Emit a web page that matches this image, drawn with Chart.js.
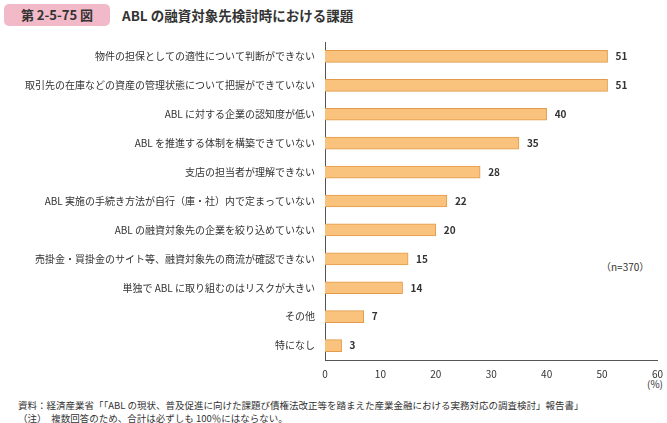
<!DOCTYPE html>
<html><head><meta charset="utf-8">
<script src="https://cdn.jsdelivr.net/npm/chart.js@4"></script>
<style>
body{margin:0;width:667px;height:423px;position:relative;font-family:"Noto Sans CJK JP","Noto Sans",sans-serif;background:#fff;color:#333}
#c{position:absolute;left:0;top:0}
.t{position:absolute;white-space:nowrap}
</style></head><body>
<div class="t" style="left:4px;top:4px;width:106px;height:22px;background:#f2b9c8;border-radius:5px;font-size:13px;line-height:22px;text-align:center;font-weight:bold">第 2-5-75 図</div>
<div class="t" style="left:122px;top:5px;font-size:13.5px;font-weight:bold;line-height:20px">ABL の融資対象先検討時における課題</div>
<div class="t" style="left:601px;top:259px;font-size:10px">（n=370）</div>
<div class="t" style="left:647px;top:376px;font-size:10px">(%)</div>
<div class="t" style="left:18px;top:399px;font-size:9.5px;line-height:13px">資料：経済産業省「「ABL の現状、普及促進に向けた課題び債権法改正等を踏まえた産業金融における実務対応の調査検討」報告書」<br>（注）　複数回答のため、合計は必ずしも 100％にはならない。</div>
<canvas id="c" width="667" height="423"></canvas>
<script>
const categories=["物件の担保としての適性について判断ができない","取引先の在庫などの資産の管理状態について把握ができていない","ABL に対する企業の認知度が低い","ABL を推進する体制を構築できていない","支店の担当者が理解できない","ABL 実施の手続き方法が自行（庫・社）内で定まっていない","ABL の融資対象先の企業を絞り込めていない","売掛金・買掛金のサイト等、融資対象先の商流が確認できない","単独で ABL に取り組むのはリスクが大きい","その他","特になし"];
const values=[51,51,40,35,28,22,20,15,14,7,3];
const xTicks=[0,10,20,30,40,50,60];
const labelPlugin={id:'lbl',afterDatasetsDraw(ch){const ctx=ch.ctx;const m=ch.getDatasetMeta(0);ctx.save();ctx.font='bold 10px "Noto Sans CJK JP"';ctx.fillStyle='#333';ctx.textBaseline='middle';m.data.forEach((b,i)=>{ctx.fillText(values[i],b.x+8,b.y);});ctx.restore();}};
new Chart(document.getElementById('c'),{type:'bar',
data:{labels:categories,datasets:[{data:values,backgroundColor:'#f9c27d',borderColor:'#e39a4a',borderWidth:1,barThickness:12}]},
options:{indexAxis:'y',responsive:false,animation:false,
layout:{padding:{top:42,right:8,left:0,bottom:0}},
plugins:{legend:{display:false},tooltip:{enabled:false}},
scales:{
x:{min:0,max:60,afterBuildTicks(s){s.ticks=xTicks.map(v=>({value:v}));},afterFit(s){s.height=63;},
grid:{display:false,drawTicks:true,tickLength:4,color:'#555'},border:{color:'#555'},
ticks:{color:'#333',font:{size:10,family:'"Noto Sans CJK JP"'},padding:4}},
y:{afterFit(s){s.width=325;},grid:{display:false,tickLength:4},border:{color:'#555'},
ticks:{color:'#333',font:{size:10,family:'"Noto Sans CJK JP"'},padding:6}}}},
plugins:[labelPlugin]});
</script></body></html>
